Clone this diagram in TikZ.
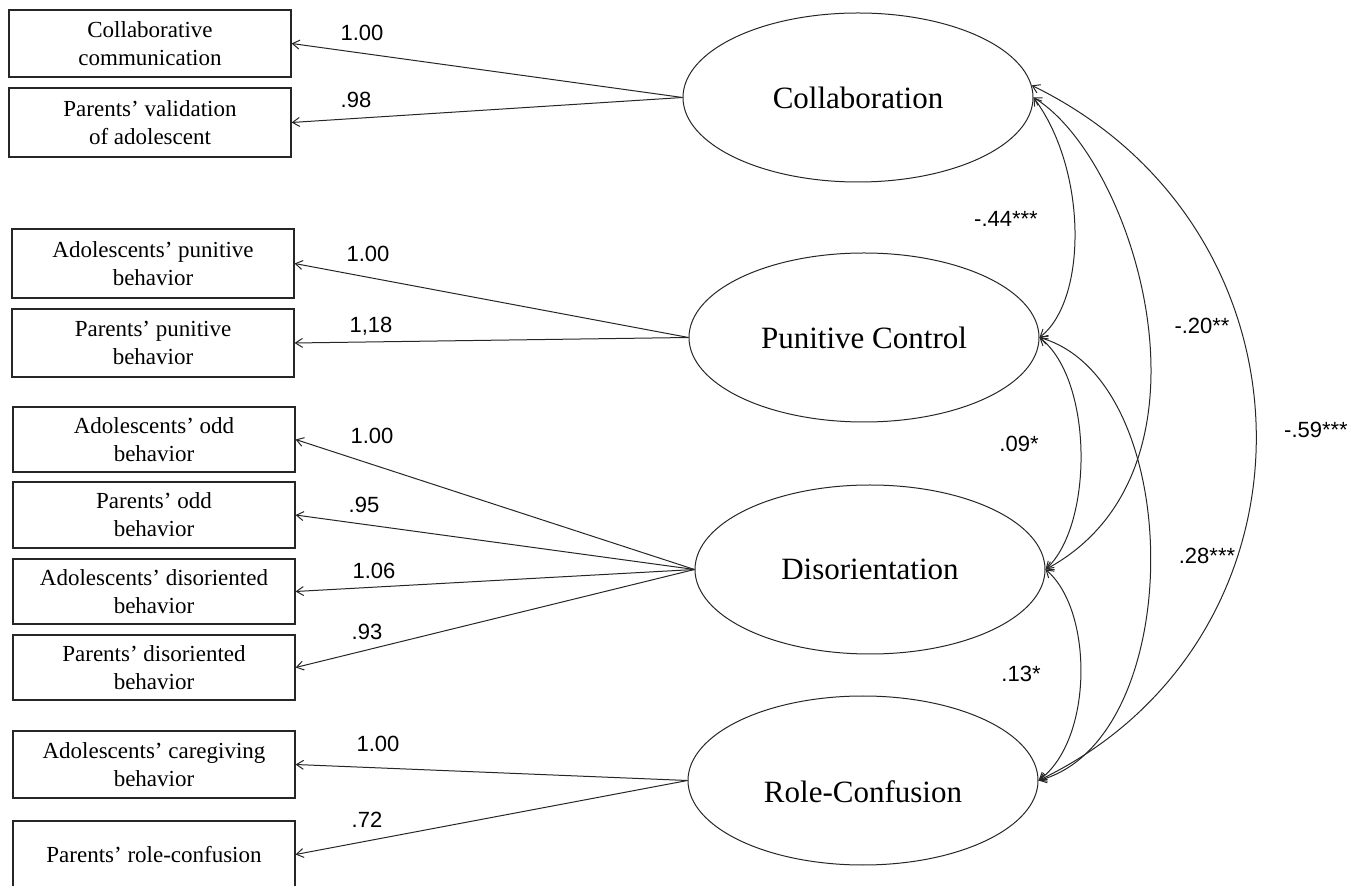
\documentclass[tikz,border=0pt]{standalone}
\usepackage{fontspec}
\setmainfont{Liberation Serif}
\newfontfamily\numfont{Liberation Sans}
\usetikzlibrary{arrows.meta,shapes.geometric}
\tikzset{ind/.style={draw=black!85,line width=.6pt,align=center,font=\fontsize{11.5}{14}\selectfont,minimum width=141pt,inner sep=0pt},lat/.style={ellipse,draw=black!85,line width=.5pt,minimum width=175pt,minimum height=84.5pt,inner sep=0pt,font=\fontsize{15.5}{18}\selectfont},load/.style={-{Straight Barb[length=3.5pt,width=4.5pt]},line width=.5pt,draw=black!85},corr/.style={{Straight Barb[length=3.5pt,width=4.5pt]}-{Straight Barb[length=3.5pt,width=4.5pt]},line width=.5pt,draw=black!85},coef/.style={font=\numfont\fontsize{11}{13}\selectfont,inner sep=0pt}}

\begin{document}
\begin{tikzpicture}[x=.5pt,y=-.5pt]
\useasboundingbox (0,0) rectangle (1365,886);
% latent factors
\node[lat] (col) at (858,97.5) {Collaboration};
\node[lat] (pun) at (864,337.5) {Punitive Control};
\node[lat] (dis) at (870,569.5) {Disorientation};
\node[lat,text height=22pt] (rol) at (863,780.5) {Role-Confusion};
% indicators
\foreach \n/\xx/\yy/\hh/\txt in {c1/150/43.5/33.5/{Collaborative\\communication},c2/150/122.5/34.5/{Parents' validation\\of adolescent},p1/153/263.5/34.5/{Adolescents' punitive\\behavior},p2/153/343/34/{Parents' punitive\\behavior},d1/154/439.5/32.5/{Adolescents' odd\\behavior},d2/154/515/33/{Parents' odd\\behavior},d3/154/591.5/32.5/{Adolescents' disoriented\\behavior},d4/154/667.5/32.5/{Parents' disoriented\\behavior},r1/154/764.5/33.5/{Adolescents' caregiving\\behavior},r2/154/854.5/33.5/{Parents' role-confusion}}{\node[ind,minimum height=\hh pt] (\n) at (\xx,\yy) {\txt};}
% loadings
\foreach \aa/\bb/\xx/\yy/\val in {col/c1/362/33/1.00,col/c2/356/100/.98,pun/p1/368/254/1.00,pun/p2/371/326/{1,18},dis/d1/372/436/1.00,dis/d2/364/505/.95,dis/d3/374/571/1.06,dis/d4/367/632/.93,rol/r1/378/744/1.00,rol/r2/367/820/.72}{\draw[load] (\aa.west)--(\bb.east); \node[coef] (k\bb) at (\xx,\yy) {\val};}
% correlations
\draw[corr] (col.east) .. controls +(54,72.5) and +(48,-37.5) .. (pun.east);
\draw[corr] (col.east) .. controls +(102,62.5) and +(185,-99.5) .. (dis.east);
\draw[corr] (col.4) .. controls +(297,145) and +(292,-140.5) .. (rol.east);
\draw[corr] (pun.east) .. controls +(54,42.5) and +(48,-44.5) .. (dis.east);
\draw[corr] (pun.east) .. controls +(148,42.5) and +(149,-40.5) .. (rol.east);
\draw[corr] (dis.east) .. controls +(48,40.5) and +(55,-40.5) .. (rol.east);
\node[coef] (kcp) at (1006,219) {-.44***};
\node[coef] (kcd) at (1202,326) {-.20**};
\node[coef] (kcr) at (1316,430) {-.59***};
\node[coef] (kpd) at (1019,444) {.09*};
\node[coef] (kpr) at (1207,556) {.28***};
\node[coef] (kdr) at (1021,674) {.13*};
\end{tikzpicture}
\end{document}
